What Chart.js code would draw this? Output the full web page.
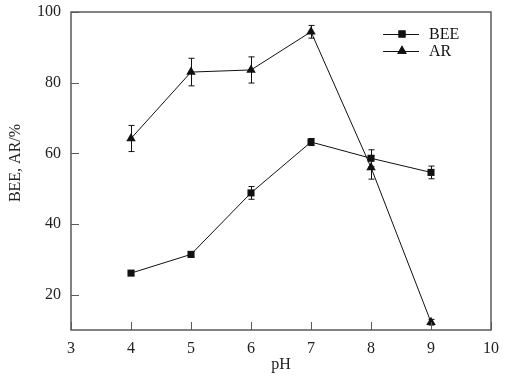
<!DOCTYPE html>
<html>
<head>
<meta charset="utf-8">
<script src="https://cdn.jsdelivr.net/npm/chart.js@4/dist/chart.umd.min.js"></script>
<style>
  html, body { margin: 0; padding: 0; background: #fff; }
  #wrap { width: 506px; height: 378px; }
</style>
</head>
<body>
<div id="wrap"><canvas id="c"></canvas></div>
<script>
// pH values on the x axis
const phValues = [4, 5, 6, 7, 8, 9];

// BEE series and its error
const beeValues = [26.1, 31.4, 48.8, 63.2, 58.6, 54.6];
const beeErrors = [0.6, 0.8, 1.8, 1.0, 2.4, 1.8];

// AR series and its error
const arValues = [64.2, 83.0, 83.6, 94.4, 56.0, 12.2];
const arErrors = [3.7, 3.9, 3.7, 1.8, 3.3, 0.8];

const xTicks = [3, 4, 5, 6, 7, 8, 9, 10];
const yTicks = [20, 40, 60, 80, 100];
const yTitle = 'BEE, AR/%';

const FONT = '"Liberation Serif", "DejaVu Serif", serif';
const INK = '#111';

const toPoints = (xs, ys) => xs.map((x, i) => ({ x, y: ys[i] }));

// error bars, frame, inward ticks, y title and legend
const decor = {
    id: 'decor',
    beforeDatasetsDraw(chart) {
        const { ctx, scales: { x, y } } = chart;
        ctx.save();
        ctx.strokeStyle = INK;
        ctx.lineWidth = 1;
        const errs = [beeErrors, arErrors];
        chart.data.datasets.forEach((ds, di) => {
            ds.data.forEach((p, i) => {
                const e = errs[di][i];
                const px = Math.round(x.getPixelForValue(p.x)) + 0.5;
                const yt = y.getPixelForValue(p.y + e);
                const yb = y.getPixelForValue(p.y - e);
                ctx.beginPath();
                ctx.moveTo(px, yt); ctx.lineTo(px, yb);
                ctx.moveTo(px - 3, yt); ctx.lineTo(px + 3, yt);
                ctx.moveTo(px - 3, yb); ctx.lineTo(px + 3, yb);
                ctx.stroke();
            });
        });
        ctx.restore();
    },
    afterDraw(chart) {
        const { ctx, chartArea: a, scales: { x, y } } = chart;
        ctx.save();
        ctx.strokeStyle = '#5a5a5a';
        ctx.lineWidth = 1.5;
        ctx.strokeRect(a.left, a.top, a.right - a.left, a.bottom - a.top);
        // inward ticks
        ctx.lineWidth = 1;
        ctx.beginPath();
        xTicks.forEach(v => {
            const px = Math.round(x.getPixelForValue(v)) + 0.5;
            ctx.moveTo(px, a.bottom); ctx.lineTo(px, a.bottom - 8);
        });
        yTicks.forEach(v => {
            const py = Math.round(y.getPixelForValue(v)) + 0.5;
            ctx.moveTo(a.left, py); ctx.lineTo(a.left + 8, py);
        });
        ctx.stroke();

        // y axis title
        ctx.font = '16px ' + FONT;
        ctx.fillStyle = '#222';
        ctx.textAlign = 'center';
        ctx.textBaseline = 'middle';
        ctx.translate(16, 163);
        ctx.rotate(-Math.PI / 2);
        ctx.fillText(yTitle, 0, 0);
        ctx.setTransform(1, 0, 0, 1, 0, 0);

        // legend
        ctx.textAlign = 'left';
        ctx.fillStyle = INK;
        const lx = 383, rows = [34, 51];
        chart.data.datasets.forEach((ds, i) => {
            const ly = rows[i];
            ctx.strokeStyle = INK;
            ctx.lineWidth = 1;
            ctx.beginPath();
            ctx.moveTo(lx, ly + 0.5); ctx.lineTo(lx + 36, ly + 0.5);
            ctx.stroke();
            Chart.helpers.drawPoint(ctx, {
                pointStyle: ds.pointStyle, radius: ds.pointRadius, rotation: 0
            }, lx + 19, ly);
            ctx.fill();
            ctx.fillText(ds.label, lx + 46, ly + 1);
        });
        ctx.restore();
    }
};

new Chart(document.getElementById('c'), {
    type: 'line',
    data: {
        datasets: [
            {
                label: 'BEE',
                data: toPoints(phValues, beeValues),
                borderColor: INK, borderWidth: 1,
                pointStyle: 'rect', pointRadius: 5,
                pointBackgroundColor: INK, pointBorderColor: INK, pointBorderWidth: 0,
            },
            {
                label: 'AR',
                data: toPoints(phValues, arValues),
                borderColor: INK, borderWidth: 1,
                pointStyle: 'triangle', pointRadius: 5.5,
                pointBackgroundColor: INK, pointBorderColor: INK, pointBorderWidth: 0,
            },
        ],
    },
    options: {
        responsive: true,
        maintainAspectRatio: false,
        animation: false,
        layout: { padding: { top: 12, right: 15, left: 0, bottom: 0 } },
        plugins: { legend: { display: false }, tooltip: { enabled: false } },
        scales: {
            x: {
                type: 'linear', min: 3, max: 10,
                afterBuildTicks: s => { s.ticks = xTicks.map(v => ({ value: v })); },
                afterFit: s => { s.height = 48; s.paddingLeft = 0; s.paddingRight = 0; },
                grid: { display: false, drawTicks: false },
                border: { display: false },
                ticks: { color: '#222', padding: 9, font: { family: FONT, size: 16 } },
                title: { display: true, text: 'pH', color: '#222', padding: { top: 1 }, font: { family: FONT, size: 16 } },
            },
            y: {
                min: 10, max: 100,
                afterBuildTicks: s => { s.ticks = yTicks.map(v => ({ value: v })); },
                afterFit: s => { s.width = 71; s.paddingTop = 0; s.paddingBottom = 0; },
                grid: { display: false, drawTicks: false },
                border: { display: false },
                ticks: { color: '#222', padding: 10, font: { family: FONT, size: 16 } },
                title: { display: false },
            },
        },
    },
    plugins: [decor],
});
</script>
</body>
</html>
